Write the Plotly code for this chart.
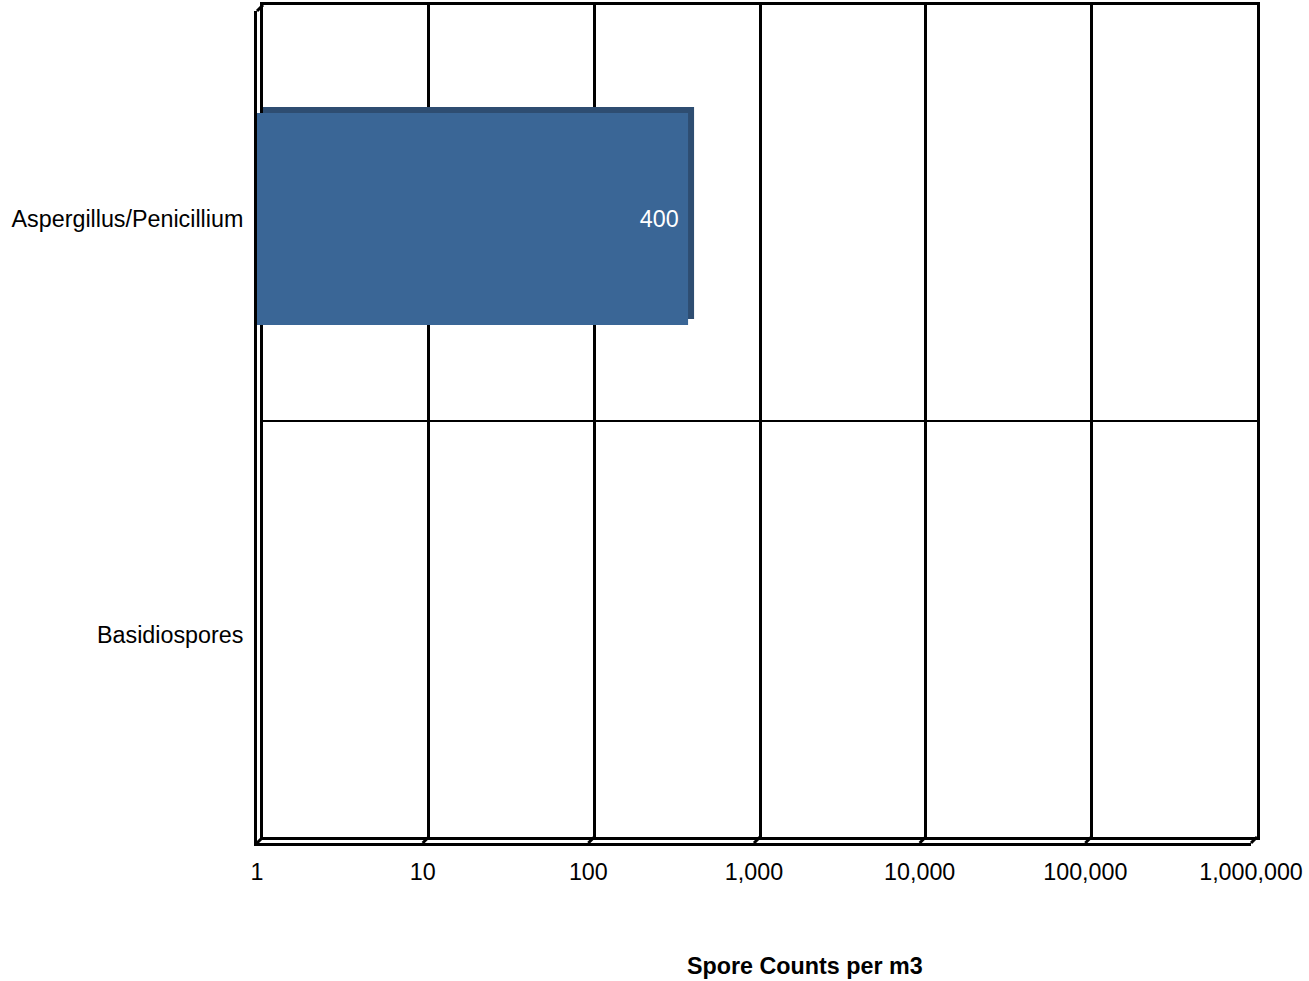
import plotly.graph_objects as go

# ---- data ----
categories = ["Basidiospores", "Aspergillus/Penicillium"]
spore_counts = [None, 400]
tick_values = [1, 10, 100, 1000, 10000, 100000, 1000000]
tick_labels = ["1", "10", "100", "1,000", "10,000", "100,000", "1,000,000"]
x_title = "Spore Counts per m3"

W, H = 1309, 981
FONT = "Liberation Sans, Arial, sans-serif"
FS = 23.3

# geometry (pixels) for the pseudo-3D frame
DEPTH = 6
back_l, back_r, back_t, back_b = 263, 1257, 5, 837
front_l, front_r, front_t, front_b = back_l - DEPTH, back_r - DEPTH, back_t + DEPTH, back_b + DEPTH


def px(x):
    return x / W


def py(y):
    return 1 - y / H


fig = go.Figure()

# back-face of bar (gives top/right depth faces)
fig.add_trace(go.Bar(
    y=categories, x=spore_counts, orientation="h",
    xaxis="x", yaxis="y", width=0.51,
    marker=dict(color="#2E4D71", line=dict(width=0)),
    hoverinfo="skip", showlegend=False,
))
# front face of bar
fig.add_trace(go.Bar(
    y=categories, x=spore_counts, orientation="h",
    xaxis="x2", yaxis="y2", width=0.51,
    marker=dict(color="#3A6696", line=dict(width=0)),
    text=[None if v is None else f"{v:,}\u00a0" for v in spore_counts],
    textposition="inside", insidetextanchor="end",
    textfont=dict(color="white", size=FS, family=FONT),
    showlegend=False,
))

shapes = []
# floor bevels at each gridline + top-left corner bevel
for k in range(len(tick_values)):
    xf = front_l + k * (front_r - front_l) / (len(tick_values) - 1)
    shapes.append(dict(type="line", xref="paper", yref="paper",
                       x0=px(xf), y0=py(front_b), x1=px(xf + DEPTH), y1=py(back_b),
                       line=dict(color="black", width=3)))
shapes.append(dict(type="line", xref="paper", yref="paper",
                   x0=px(front_l), y0=py(front_t), x1=px(back_l), y1=py(back_t),
                   line=dict(color="black", width=3)))

common = dict(automargin=False, zeroline=False, ticks="")

fig.update_layout(
    template="none",
    width=W, height=H, autosize=False,
    margin=dict(l=0, r=0, t=0, b=0, pad=0),
    paper_bgcolor="white", plot_bgcolor="rgba(0,0,0,0)",
    font=dict(family=FONT, size=FS, color="black"),
    showlegend=False,
    # back wall axes (gridlines)
    xaxis=dict(type="log", range=[0, 6], domain=[px(back_l), px(back_r)], anchor="y",
               dtick=1, showgrid=True, gridcolor="black", gridwidth=3,
               showticklabels=False,
               showline=True, linecolor="black", linewidth=3, mirror=True, **common),
    yaxis=dict(type="category", categoryorder="array", categoryarray=categories,
               range=[-0.5, 1.5], domain=[py(back_b), py(back_t)], anchor="x",
               tickson="boundaries", showgrid=True, gridcolor="black", gridwidth=1.5,
               showticklabels=False,
               showline=True, linecolor="black", linewidth=3, mirror=True, **common),
    # front face axes (labels, bar)
    xaxis2=dict(type="log", range=[0, 6], domain=[px(front_l), px(front_r)], anchor="y2",
                tickvals=tick_values, ticktext=tick_labels, showgrid=False,
                ticklabelstandoff=6,
                showline=True, linecolor="black", linewidth=3,
                tickfont=dict(size=FS, family=FONT, color="black"), **common),
    yaxis2=dict(type="category", categoryorder="array", categoryarray=categories,
                range=[-0.5, 1.5], domain=[py(front_b), py(front_t)], anchor="x2",
                showgrid=False, ticklabelstandoff=6,
                showline=True, linecolor="black", linewidth=3,
                tickfont=dict(size=FS, family=FONT, color="black"), **common),
    shapes=shapes,
    annotations=[dict(text=f"<b>{x_title}</b>", xref="paper", yref="paper",
                      x=px(805), y=py(966), xanchor="center", yanchor="middle",
                      showarrow=False, font=dict(size=FS, family=FONT, color="black"))],
)

post = "document.body.style.margin='0';document.body.style.overflow='hidden';"
fig.write_html("out.html", config={"displayModeBar": False}, post_script=post)
